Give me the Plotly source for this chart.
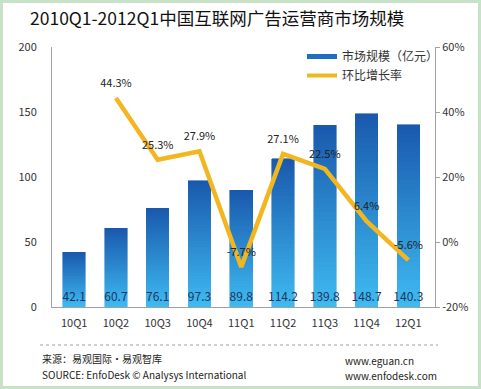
import plotly.graph_objects as go

# ---- data ----
categories = ["10Q1", "10Q2", "10Q3", "10Q4", "11Q1", "11Q2", "11Q3", "11Q4", "12Q1"]
market_size = [42.1, 60.7, 76.1, 97.3, 89.8, 114.2, 139.8, 148.7, 140.3]
growth_categories = ["10Q2", "10Q3", "10Q4", "11Q1", "11Q2", "11Q3", "11Q4", "12Q1"]
growth_rate = [44.3, 25.3, 27.9, -7.7, 27.1, 22.5, 6.4, -5.6]
left_ticks = [0, 50, 100, 150, 200]
right_ticks = [-20, 0, 20, 40, 60]
right_tick_labels = ["-20%", "0%", "20%", "40%", "60%"]

title = "2010Q1-2012Q1中国互联网广告运营商市场规模"
bar_name = "市场规模（亿元）"
line_name = "环比增长率"

# ---- layout geometry (px) ----
W, H = 481, 389
ML, MR, MT, MB = 52, 46, 47, 82
PW, PH = W - ML - MR, H - MT - MB

def px_x(x):
    return (x - ML) / PW

def px_y(y):
    return (H - MB - y) / PH

FONT = "Noto Sans CJK SC, Noto Sans, sans-serif"

fig = go.Figure()

# gradient bars built from stacked slices of each bar
N = 40
top = (26, 90, 174)
bottom = (62, 186, 240)
for i in range(N):
    t = i / (N - 1)
    c = tuple(round(bottom[k] + (top[k] - bottom[k]) * t) for k in range(3))
    col = "rgb(%d,%d,%d)" % c
    fig.add_trace(go.Bar(
        x=categories, y=[v / N for v in market_size],
        marker=dict(color=col, line=dict(color=col, width=0.6)),
        showlegend=False, hoverinfo="skip", yaxis="y",
    ))

# value labels at the base of bars
fig.add_trace(go.Scatter(
    x=categories, y=[0] * len(categories), mode="markers+text",
    marker=dict(size=4, opacity=0),
    text=["%.1f" % v for v in market_size], textposition="top center",
    textfont=dict(size=12, color="#1c3563", family=FONT),
    showlegend=False, hoverinfo="skip", yaxis="y",
))

# growth line
LINE_COLOR = "#F2B720"
fig.add_trace(go.Scatter(
    x=growth_categories, y=growth_rate, mode="lines",
    line=dict(color=LINE_COLOR, width=4.5),
    showlegend=False, yaxis="y2",
))
fig.add_trace(go.Scatter(
    x=growth_categories, y=growth_rate, mode="markers+text",
    marker=dict(size=12, opacity=0),
    text=["%.1f%%" % v for v in growth_rate], textposition="top center",
    textfont=dict(size=11, color="#222222", family=FONT),
    showlegend=False, hoverinfo="skip", yaxis="y2",
))

# legend entries
fig.add_trace(go.Scatter(
    x=[None], y=[None], mode="lines", name=bar_name,
    line=dict(color="#1f6fc0", width=5), yaxis="y",
))
fig.add_trace(go.Scatter(
    x=[None], y=[None], mode="lines", name=line_name,
    line=dict(color=LINE_COLOR, width=4), yaxis="y2",
))

fig.update_layout(
    width=W, height=H,
    margin=dict(l=ML, r=MR, t=MT, b=MB),
    paper_bgcolor="white", plot_bgcolor="white",
    barmode="stack", bargap=0.46,
    font=dict(family=FONT, size=11, color="#333333"),
    title=dict(text=title, x=30 / W, xanchor="left", y=1 - 19 / H, yanchor="middle",
               font=dict(size=17.5, color="#111111", family=FONT)),
    xaxis=dict(type="category", categoryorder="array", categoryarray=categories,
               showline=True, linecolor="#a0a0a0", linewidth=1, showgrid=False,
               ticks="", ticklabelstandoff=6, tickfont=dict(size=11, color="#333333")),
    yaxis=dict(range=[0, 200], tickvals=left_ticks, showline=True, linecolor="#a0a0a0",
               linewidth=1, showgrid=False, zeroline=False, ticks="", ticklabelstandoff=12,
               tickfont=dict(size=11, color="#333333")),
    yaxis2=dict(range=[-20, 60], tickvals=right_ticks, ticktext=right_tick_labels,
                overlaying="y", side="right", showline=True, linecolor="#a0a0a0",
                linewidth=1, showgrid=False, zeroline=False, ticks="outside", ticklen=4,
                tickcolor="#a0a0a0", tickfont=dict(size=11, color="#333333")),
    legend=dict(x=px_x(302), y=px_y(42), xanchor="left", yanchor="top",
                bgcolor="rgba(0,0,0,0)", font=dict(size=12, color="#333333"),
                tracegroupgap=0, itemwidth=30, traceorder="normal"),
    hovermode="closest",
)

# footer
fig.add_shape(type="line", xref="paper", yref="paper",
              x0=px_x(40), x1=px_x(438), y0=px_y(345), y1=px_y(345),
              line=dict(color="#a0a0a0", width=1, dash="dot"))
fig.add_shape(type="rect", xref="paper", yref="paper",
              x0=px_x(1.5), x1=px_x(479.5), y0=px_y(387.5), y1=px_y(1.5),
              line=dict(color="#c8e2c8", width=3))

foot = [
    ("来源：易观国际·易观智库", 40, 358, "left"),
    ("SOURCE: EnfoDesk © Analysys International", 40, 374, "left"),
    ("www.eguan.cn", 343, 360, "left"),
    ("www.enfodesk.com", 343, 375, "left"),
]
for txt, x, y, anc in foot:
    fig.add_annotation(text=txt, xref="paper", yref="paper", x=px_x(x), y=px_y(y),
                       xanchor=anc, yanchor="middle", showarrow=False,
                       font=dict(size=10, color="#222222", family=FONT))

fig.write_html("out.html", config={"displayModeBar": False},
               post_script="document.body.style.margin='0px';document.body.style.padding='0px';")
